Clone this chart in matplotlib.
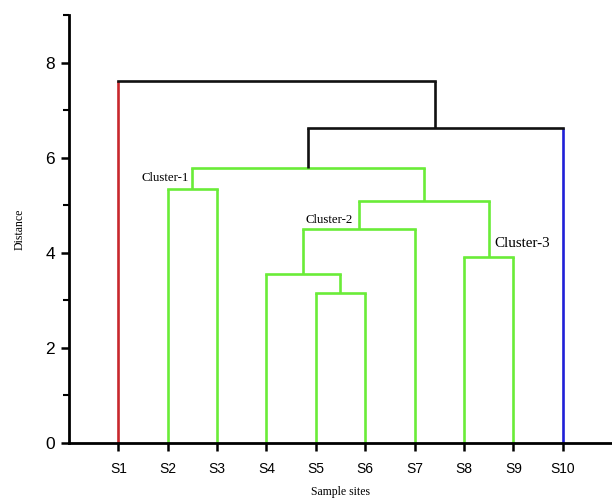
import matplotlib.pyplot as plt
from matplotlib.ticker import MultipleLocator

# leaves and merge heights
sites = ["S1", "S2", "S3", "S4", "S5", "S6", "S7", "S8", "S9", "S10"]
# each merge joins two nodes (leaf name or earlier merge "m<k>") at a height
merges = [
    ("S5", "S6", 3.16),     # m0
    ("S4", "m0", 3.56),     # m1
    ("S8", "S9", 3.92),     # m2
    ("m1", "S7", 4.51),     # m3
    ("S2", "S3", 5.35),     # m4
    ("m3", "m2", 5.09),     # m5
    ("m4", "m5", 5.79),     # m6
    ("m6", "S10", 6.63),    # m7
    ("S1", "m7", 7.62),     # m8
]
# colour of each merge's bracket
merge_colors = ["green", "green", "green", "green", "green", "green", "green", "black", "black"]
leaf_colors = {"S1": "red", "S10": "blue"}
cluster_labels = ["Cluster-1", "Cluster-2", "Cluster-3"]
cluster_pos = [(1.95, 5.58), (5.27, 4.69), (9.19, 4.19)]
cluster_sizes = [9.3, 9.3, 10.8]

palette = {"green": "#6aec38", "black": "#111111", "red": "#c8282d", "blue": "#2020d8"}

fig = plt.figure(figsize=(6.12, 4.98), dpi=100)
ax = fig.add_axes([0.1127, 0.1104, 0.8873, 0.8595])

# node -> (x, y)
nodes = {s: (i + 1, 0.0) for i, s in enumerate(sites)}
for k, (a, b, h) in enumerate(merges):
    xa, ya = nodes[a]
    xb, yb = nodes[b]
    col = palette[merge_colors[k]]
    ca = palette[leaf_colors[a]] if a in leaf_colors else col
    cb = palette[leaf_colors[b]] if b in leaf_colors else col
    ax.plot([xa, xa], [ya, h], color=ca, lw=1.9, solid_capstyle="butt")
    ax.plot([xb, xb], [yb, h], color=cb, lw=1.9, solid_capstyle="butt")
    ax.plot([xa, xb], [h, h], color=col, lw=1.9, solid_capstyle="projecting")
    nodes["m%d" % k] = ((xa + xb) / 2, h)

for lab, (x, y), fs in zip(cluster_labels, cluster_pos, cluster_sizes):
    ax.text(x, y, lab, family="Liberation Serif", fontsize=fs, ha="center", va="center")

ax.set_xlim(0, 11)
ax.set_ylim(0, 9)
ax.set_xticks(range(1, len(sites) + 1))
ax.set_xticklabels(sites, family="Liberation Sans", fontsize=10)
ax.set_yticks([0, 2, 4, 6, 8])
ax.set_yticklabels(["0", "2", "4", "6", "8"], family="Liberation Sans", fontsize=12.5)
ax.yaxis.set_minor_locator(MultipleLocator(1))
ax.tick_params(axis="both", which="major", direction="out", length=6, width=1.8, pad=4)
ax.tick_params(axis="y", which="minor", direction="out", length=4, width=1.5)
ax.tick_params(axis="x", pad=8)

for s in ["top", "right"]:
    ax.spines[s].set_visible(False)
for s in ["left", "bottom"]:
    ax.spines[s].set_linewidth(2)

ax.set_xlabel("Sample sites", family="Liberation Serif", fontsize=8.5, labelpad=7)
ax.set_ylabel("Distance", family="Liberation Serif", fontsize=8.5, labelpad=14)

plt.savefig("out.png", dpi=100)
